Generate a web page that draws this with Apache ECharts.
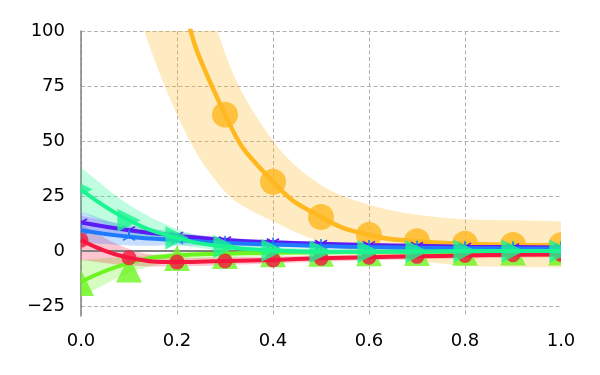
<!DOCTYPE html>
<html>
<head>
<meta charset="utf-8">
<script src="https://cdn.jsdelivr.net/npm/echarts@6/dist/echarts.min.js"></script>
<style>
  html, body { margin: 0; padding: 0; background: #fff; }
  #chart { width: 600px; height: 375px; }
</style>
</head>
<body>
<div id="chart"></div>
<script>
// x positions shared by every series
var xs = [0, 0.1, 0.2, 0.3, 0.4, 0.5, 0.6, 0.7, 0.8, 0.9, 1.0];
var yTicks = [-25, 0, 25, 50, 75, 100];

// orange, big circles
var orange = [500, 250, 125, 62, 31.5, 15.5, 7.3, 4.5, 3.3, 2.8, 2.6];
var orangeLow = [250, 125, 62, 27, 13.5, 4, -1.5, -4.5, -6.5, -7.2, -7.4];
var orangeHigh = [700, 350, 175, 90, 50, 30, 21, 16.5, 14.5, 14, 13.6];

// lime, up triangles (fit line + observed points)
var limeFit = [-14, -5.5, -2, -1.2, -0.8, -0.5, -0.4, -0.3, -0.3, -0.2, -0.2];
var limeObs = [-14.5, -8.4, -3.2, -2.2, -1.5, -1.2, -1, -0.9, -0.8, -0.7, -0.7];
var limeLow = [-21, -10, -4.5, -3, -2.2, -1.8, -1.5, -1.4, -1.3, -1.2, -1.2];
var limeHigh = [-4, -2.5, -0.5, 0.4, 0.4, 0.4, 0.3, 0.3, 0.3, 0.3, 0.3];

// red, small circles
var red = [5, -3, -5, -4.5, -4, -3.3, -2.8, -2.4, -2, -1.7, -1.5];
var redLow = [-4, -6.5, -7, -6.3, -5.5, -4.8, -4.2, -3.7, -3.3, -3, -2.8];
var redHigh = [12, 1, -2.8, -2.8, -2.5, -1.9, -1.5, -1.1, -0.8, -0.5, -0.3];

// violet, tri_down markers
var violet = [13, 9.5, 7, 5, 4, 3.3, 2.8, 2.4, 2, 1.8, 1.6];
var violetLow = [10, 7.3, 5.4, 3.8, 3, 2.4, 2, 1.6, 1.2, 1, 0.8];
var violetHigh = [16, 11.7, 8.6, 6.2, 5, 4.2, 3.6, 3.2, 2.8, 2.6, 2.4];

// blue, tri_up markers
var blue = [9.5, 6.5, 5, 3.8, 3, 2.3, 1.8, 1.5, 1.3, 1.2, 1.1];
var blueLow = [4, 2.5, 2.5, 2.3, 1.8, 1.3, 1, 0.7, 0.5, 0.4, 0.3];
var blueHigh = [18, 11, 7.5, 5.3, 4.2, 3.3, 2.7, 2.3, 2.1, 2, 1.9];

// spring green, right triangles
var spring = [28, 14, 6, 2, 0.3, -0.3, -0.3, -0.2, 0, 0, 0];
var springLow = [18, 8, 3, 0, -1.2, -1.5, -1.3, -1.2, -1, -1, -1];
var springHigh = [38, 21, 10, 4.5, 2, 1, 0.8, 0.8, 0.8, 0.8, 0.8];

var C = {
  orange: '#ffb81f',
  lime: '#6cf51f',
  red: '#f5173f',
  violet: '#5b1bf5',
  blue: '#1f7aff',
  spring: '#1af591'
};

function pts(ys) {
  return xs.map(function (x, i) { return [x, ys[i]]; });
}

// shaded band between low and high, drawn as one clipped polygon
function band(low, high, color, alpha) {
  return {
    type: 'custom', clip: true, silent: true, z: 1,
    data: [0],
    renderItem: function (params, api) {
      var top = xs.map(function (x, i) { return api.coord([x, high[i]]); });
      var bot = xs.map(function (x, i) { return api.coord([x, low[i]]); }).reverse();
      // doubled end points keep the corners sharp when smoothing
      var p = [top[0]].concat(top, [top[top.length - 1], bot[0]], bot, [bot[bot.length - 1]]);
      return {
        type: 'polygon',
        shape: { points: p, smooth: 0.35 },
        style: { fill: color, opacity: alpha }
      };
    }
  };
}

function curve(ys, color, z, width) {
  return {
    type: 'line', smooth: true, data: pts(ys), z: z,
    symbol: 'none', silent: true,
    lineStyle: { color: color, width: width || 4 }
  };
}

// marker shapes, each drawn in a box around the point
var shapes = {
  circle: function (c, s) {
    return { type: 'circle', shape: { cx: c[0], cy: c[1], r: s / 2 } };
  },
  up: function (c, s) {
    return { type: 'path', shape: { pathData: 'M5,0L10,10L0,10Z', x: c[0] - s / 2, y: c[1] - s * 0.48, width: s, height: s * 0.96 } };
  },
  right: function (c, s) {
    return { type: 'path', shape: { pathData: 'M0,0L10,5L0,10Z', x: c[0] - s * 0.43, y: c[1] - s / 2, width: s * 0.86, height: s } };
  },
  triUp: function (c, s) {
    var r = s / 2;
    return { type: 'path', shape: { pathData: 'M0,0L0,-10M0,0L-8.66,5M0,0L8.66,5', x: c[0] - 0.866 * r, y: c[1] - r, width: 1.732 * r, height: 1.5 * r } };
  },
  triDown: function (c, s) {
    var r = s / 2;
    return { type: 'path', shape: { pathData: 'M0,0L0,10M0,0L-8.66,-5M0,0L8.66,-5', x: c[0] - 0.866 * r, y: c[1] - 0.5 * r, width: 1.732 * r, height: 1.5 * r } };
  }
};

function markers(ys, color, kind, size, z, stroke) {
  return {
    type: 'custom', clip: true, silent: true, z: z,
    data: pts(ys),
    renderItem: function (params, api) {
      var c = api.coord([api.value(0), api.value(1)]);
      var el = shapes[kind](c, size);
      el.style = stroke
        ? { fill: 'none', stroke: color, lineWidth: 1.6 }
        : { fill: color, opacity: 0.8 };
      return el;
    }
  };
}

var series = [
  band(orangeLow, orangeHigh, C.orange, 0.28),
  band(limeLow, limeHigh, C.lime, 0.28),
  band(redLow, redHigh, C.red, 0.25),
  band(violetLow, violetHigh, C.violet, 0.22),
  band(blueLow, blueHigh, C.blue, 0.25),
  band(springLow, springHigh, C.spring, 0.28),
  // zero line
  {
    type: 'line', data: [], z: 2, silent: true,
    markLine: {
      symbol: 'none', silent: true, label: { show: false },
      lineStyle: { color: '#808080', width: 2, type: 'solid' },
      data: [{ yAxis: 0 }]
    }
  },
  curve(orange, C.orange, 3, 4.5),
  markers(orange, C.orange, 'circle', 26, 4),
  curve(limeFit, C.lime, 5),
  markers(limeObs, C.lime, 'up', 27, 6),
  curve(red, C.red, 7),
  markers(red, C.red, 'circle', 15, 8),
  curve(violet, C.violet, 9),
  markers(violet, C.violet, 'triDown', 14, 10, true),
  curve(blue, C.blue, 11),
  markers(blue, C.blue, 'triUp', 14, 12, true),
  curve(spring, C.spring, 13),
  markers(spring, C.spring, 'right', 27, 14)
];

var chart = echarts.init(document.getElementById('chart'));
chart.setOption({
  animation: false,
  grid: { left: 81, right: 39, top: 31, bottom: 59 },
  xAxis: {
    type: 'value', min: 0, max: 1, interval: 0.2,
    axisLine: { show: false },
    axisTick: { show: false },
    splitLine: { show: true, showMaxLine: false, lineStyle: { color: '#b0b0b0', width: 1, type: [4, 2.5] } },
    axisLabel: {
      fontFamily: 'DejaVu Sans', fontSize: 18, color: '#000', margin: 16,
      formatter: function (v) { return v.toFixed(1); }
    }
  },
  yAxis: {
    type: 'value', min: -29.5, max: 100,
    axisLine: { show: true, lineStyle: { color: '#808080', width: 1.5 } },
    axisTick: { show: false, customValues: yTicks },
    splitLine: { show: true, lineStyle: { color: '#b0b0b0', width: 1, type: [4, 2.5] } },
    axisLabel: {
      customValues: yTicks,
      fontFamily: 'DejaVu Sans', fontSize: 18, color: '#000', margin: 16,
      formatter: function (v) { return v < 0 ? '\u2212' + (-v) : String(v); }
    }
  },
  series: series
});
</script>
</body>
</html>
